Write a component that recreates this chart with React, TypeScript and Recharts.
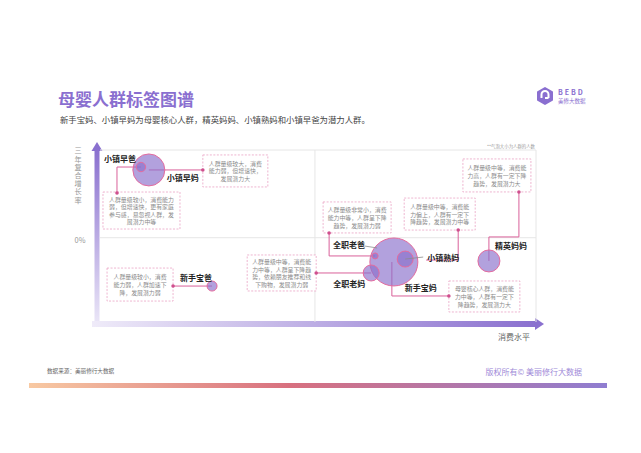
import React from 'react';
import { ScatterChart, Scatter, XAxis, YAxis, ZAxis, ReferenceLine } from 'recharts';

// groups shown as bubbles: x = consumption level, y = 3-year CAGR, z = population
const groups = ['小镇早妈', '小镇早爸', '新手宝爸', '新手宝妈', '全职老妈', '全职老爸', '小镇熟妈', '精英妈妈'];
const spendLevel = [11.2, 9.4, 25.7, 67.4, 62.2, 63.1, 70.0, 89.2];
const growthRate = [38.4, 40.1, -29.1, -15.1, -21.5, -11.6, -13.4, -14.5];
const population = [256, 22, 25, 576, 64, 9, 64, 121];
const groupNotes = [
    ['人群量级较大，消费', '能力弱，但增速快，', '发展潜力大'],
    ['人群量级较小，消费能力', '弱，但增速快，更有家庭', '参与感，易忽视人群，发', '展潜力中等'],
    ['人群量级较小，消费', '能力弱，人群加速下', '降，发展潜力弱'],
    ['母婴核心人群，消费能', '力中等，人群有一定下', '降趋势，发展潜力大'],
    ['人群量级中等，消费能', '力中等，人群呈下降趋', '势，依赖朋友推荐和线', '下购物，发展潜力弱'],
    ['人群量级非常小，消费', '能力中等，人群呈下降', '趋势，发展潜力弱'],
    ['人群量级中等，消费能', '力偏上，人群有一定下', '降趋势，发展潜力中等'],
    ['人群量级中等，消费能', '力高，人群有一定下降', '趋势，发展潜力大'],
];

const chartData = groups.map((name, i) => ({
    name,
    x: spendLevel[i],
    y: growthRate[i],
    z: population[i],
    note: groupNotes[i],
}));

const FONT = '"Noto Sans CJK SC", "Noto Sans", sans-serif';
const PINK = '#d9609a';

// callout layout, offsets in px from the bubble centre
type Layout = {
    label: [number, number];
    path: [number, number][];
    box: [number, number, number, number];
    leader?: [number, number][];
    lh?: number;
};
const layouts: Record<string, Layout> = {
    小镇早妈: { label: [18, 8], path: [[0, 0], [54, 0]], box: [54, -15, 65, 32] },
    小镇早爸: { label: [-37, -9], path: [[0, 0], [-24, 0], [-24, 26]], box: [-38, 25, 77, 37] },
    新手宝爸: { label: [-32, -9], path: [[0, 0], [-39, 0]], box: [-105, -18, 66, 33] },
    新手宝妈: { label: [11, 26], path: [[-2, 0], [-2, 34], [55, 34]], box: [55, 19, 71, 31] },
    全职老妈: { label: [-38, 11], path: [[0, 0], [-55, 0]], box: [-124, -18, 69, 36], lh: 7.7 },
    全职老爸: { label: [-42, -11], path: [[0, 0], [-46, 0], [-46, -23]], box: [-52, -54, 68, 31], leader: [[-11, -10], [2, -8]] },
    小镇熟妈: { label: [22, -2], path: [[21, 1], [53, 1], [53, -29]], box: [-1, -61, 71, 32], leader: [[0, 0], [18, -2]] },
    精英妈妈: { label: [6, -15], path: [[0, 0], [0, -24], [30, -24], [30, -69]], box: [-26, -102, 68, 33] },
};

const NoteShape = (props: any) => {
    const { cx, cy, payload } = props;
    const l = layouts[payload.name];
    if (!l) return null;
    const pts = l.path.map(([dx, dy]) => `${cx + dx},${cy + dy}`).join(' ');
    const end = l.path[l.path.length - 1];
    const [bx, by, bw, bh] = l.box;
    const lines: string[] = payload.note;
    const lh = l.lh ?? 7.6;
    const top = cy + by + bh / 2 - ((lines.length - 1) * lh) / 2;
    return (
        <g>
            <polyline points={pts} fill="none" stroke={PINK} strokeWidth={1} />
            <rect x={cx + bx} y={cy + by} width={bw} height={bh} fill="#fff" stroke="#eaa2c4" strokeWidth={0.8} strokeDasharray="2 1.5" />
            {lines.map((t, i) => (
                <text key={i} x={cx + bx + bw / 2} y={top + i * lh} textAnchor="middle" dominantBaseline="central" fontSize={5.9} fill="#8a8a8a" fontFamily={FONT}>
                    {t}
                </text>
            ))}
            <circle cx={cx + end[0]} cy={cy + end[1]} r={1.8} fill="#cf4f8e" />
        </g>
    );
};

const BubbleShape = (props: any) => {
    const { cx, cy, width } = props;
    return <circle cx={cx} cy={cy} r={width / 2} fill="#8a70cc" fillOpacity={0.66} stroke="#e46c9f" strokeWidth={1} />;
};

const LabelShape = (props: any) => {
    const { cx, cy, payload } = props;
    const l = layouts[payload.name];
    if (!l) return null;
    return (
        <g>
            {l.leader && (
                <polyline points={l.leader.map(([dx, dy]) => `${cx + dx},${cy + dy}`).join(' ')} fill="none" stroke="#8c8c8c" strokeWidth={0.8} />
            )}
            <text x={cx + l.label[0]} y={cy + l.label[1]} dominantBaseline="central" fontSize={8} fontWeight="bold" fill="#222" fontFamily={FONT}>
                {payload.name}
            </text>
        </g>
    );
};

const Decor = () => (
    <svg width={641} height={453} style={{ position: 'absolute', left: 0, top: 0 }}>
        <defs>
            <linearGradient id="yBar" x1="0" y1="1" x2="0" y2="0">
                <stop offset="0" stopColor="#ece8f8" />
                <stop offset="1" stopColor="#8a70cf" />
            </linearGradient>
            <linearGradient id="xBar" x1="0" y1="0" x2="1" y2="0">
                <stop offset="0" stopColor="#efebf9" />
                <stop offset="1" stopColor="#8a70cf" />
            </linearGradient>
            <linearGradient id="foot" x1="0" y1="0" x2="1" y2="0">
                <stop offset="0" stopColor="#f8c9a2" />
                <stop offset="0.45" stopColor="#d8707f" />
                <stop offset="1" stopColor="#8f7dd1" />
            </linearGradient>
        </defs>
        <text x={58} y={98} dominantBaseline="central" fontSize={17} fontWeight="bold" fill="#8a6fd0" fontFamily={FONT}>
            母婴人群标签图谱
        </text>
        <text x={60} y={119} dominantBaseline="central" fontSize={8.4} fill="#444" fontFamily={FONT}>
            新手宝妈、小镇早妈为母婴核心人群，精英妈妈、小镇熟妈和小镇早爸为潜力人群。
        </text>
        {/* logo */}
        <polygon points="545,88 552,92 552,100 545,104 538,100 538,92" fill="#8a6fd0" stroke="#8a6fd0" strokeWidth={2} strokeLinejoin="round" />
        <path d="M541.5,98 L541.5,94.5 A3.5,3.5 0 0 1 548.5,94.5 L548.5,98 M545,98 L548.5,98" fill="none" stroke="#fff" strokeWidth={2} />
        <text x={558} y={92} dominantBaseline="central" fontSize={7} fontWeight="bold" letterSpacing={2} fill="#8a6fd0" fontFamily={FONT}>
            BEBD
        </text>
        <text x={558} y={101} dominantBaseline="central" fontSize={5.5} fill="#8a6fd0" fontFamily={FONT}>
            美修大数据
        </text>
        <text x={535} y={146} textAnchor="end" dominantBaseline="central" fontSize={4.4} fill="#999" fontFamily={FONT}>
            **气泡大小为人群的人数
        </text>
        {/* y axis arrow */}
        <rect x={94.5} y={149} width={5} height={178} fill="url(#yBar)" />
        <polygon points="91.5,151 102.5,151 97,142" fill="#8a70cf" />
        <text x={78} y={147} style={{ writingMode: 'vertical-rl' }} fontSize={7.2} letterSpacing={1} fill="#999" fontFamily={FONT}>
            三年复合增长率
        </text>
        <text x={80} y={239} textAnchor="middle" dominantBaseline="central" fontSize={7.4} fill="#999" fontFamily={FONT}>
            0%
        </text>
        {/* x axis arrow */}
        <rect x={92} y={321} width={444} height={6} fill="url(#xBar)" />
        <polygon points="535,318 535,330 544,324" fill="#8a70cf" />
        <text x={530} y={336} textAnchor="end" dominantBaseline="central" fontSize={8} fill="#666" fontFamily={FONT}>
            消费水平
        </text>
        {/* footer */}
        <text x={47} y={371} dominantBaseline="central" fontSize={5.6} fill="#666" fontFamily={FONT}>
            数据来源：美丽修行大数据
        </text>
        <text x={582} y={371} textAnchor="end" dominantBaseline="central" fontSize={8} fill="#a08ad8" fontFamily={FONT}>
            版权所有© 美丽修行大数据
        </text>
        <rect x={29} y={383} width={578} height={5} fill="url(#foot)" />
    </svg>
);

export default function App() {
    return (
        <div style={{ position: 'absolute', left: 0, top: 0, width: 641, height: 453, background: '#fff', overflow: 'hidden' }}>
            <Decor />
            <div style={{ position: 'absolute', left: 0, top: 0 }}>
                <ScatterChart width={641} height={453} margin={{ top: 150, left: 100, right: 105, bottom: 131 }}>
                    <XAxis type="number" dataKey="x" domain={[0, 100]} hide />
                    <YAxis type="number" dataKey="y" domain={[-50, 50]} hide />
                    <ZAxis type="number" dataKey="z" domain={[0, 576]} range={[0, Math.PI * 576]} />
                    <ReferenceLine y={50} stroke="#e6e6e6" strokeWidth={1} />
                    <ReferenceLine y={-1} stroke="#e6e6e6" strokeWidth={1} />
                    <ReferenceLine x={49.3} stroke="#e6e6e6" strokeWidth={1} />
                    <ReferenceLine x={100} stroke="#e6e6e6" strokeWidth={1} />
                    <Scatter data={chartData} shape={NoteShape} isAnimationActive={false} />
                    <Scatter data={chartData} shape={BubbleShape} isAnimationActive={false} />
                    <Scatter data={chartData} shape={LabelShape} isAnimationActive={false} />
                </ScatterChart>
            </div>
        </div>
    );
}
